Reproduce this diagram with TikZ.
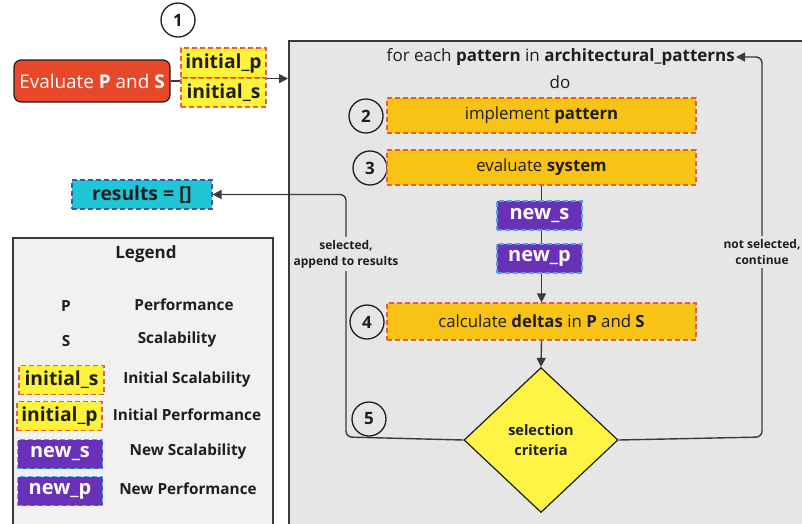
\documentclass[tikz,border=0pt]{standalone}
\usepackage{fontspec}
\setmainfont{Open Sans}
\usetikzlibrary{shapes.geometric,arrows.meta}
\definecolor{evred}{HTML}{E8482A}
\definecolor{linec}{HTML}{3A3A3A}
\definecolor{txt}{HTML}{1E1E1E}
\definecolor{loopgray}{HTML}{E6E6E6}
\definecolor{leggray}{HTML}{F1F1F1}
\definecolor{stepfill}{HTML}{F8C315}
\definecolor{inityel}{HTML}{FFF23A}
\definecolor{dashred}{HTML}{EE5A3C}
\definecolor{newpur}{HTML}{6931B8}
\definecolor{dashblue}{HTML}{4AA6EE}
\definecolor{rescyan}{HTML}{1FC7D6}
\definecolor{resblue}{HTML}{3D55B5}
\definecolor{diayel}{HTML}{FFF345}
\tikzset{
  arr/.style={draw=linec, line width=1.4pt, -{Triangle[length=9pt,width=9pt]}},
  conn/.style={draw=linec, line width=1.4pt},
  numc/.style={circle, draw=txt, line width=1.3pt, minimum size=34pt, inner sep=0pt, text=txt, font=\bfseries\fontsize{17}{20}\selectfont},
  stepbox/.style={draw=dashred, fill=stepfill, line width=1.2pt, dash pattern=on 5pt off 3pt, minimum width=309pt, minimum height=35pt, inner sep=0pt, text=txt, font=\fontsize{16.8}{20}\selectfont},
  initbox/.style={draw=dashred, fill=inityel, line width=1.2pt, dash pattern=on 5pt off 3pt, minimum width=85pt, minimum height=29pt, inner sep=0pt, text=txt, font=\bfseries\fontsize{19.3}{23}\selectfont},
  newbox/.style={draw=dashblue, fill=newpur, line width=1.2pt, dash pattern=on 5pt off 3pt, minimum width=85pt, minimum height=29pt, inner sep=0pt, text=white, font=\bfseries\fontsize{20}{24}\selectfont},
  lbl/.style={text=txt, font=\bfseries\fontsize{12}{16}\selectfont, align=center},
  legtxt/.style={text=txt, font=\bfseries\fontsize{15.3}{18}\selectfont},
}
\begin{document}
\begin{tikzpicture}[x=1pt,y=-1pt]
\useasboundingbox (0,0) rectangle (802,523);
\clip (0,0) rectangle (802,523);
\fill[white] (0,0) rectangle (802,523);

% big loop container
\node[draw=linec, line width=1.5pt, fill=loopgray, minimum width=540pt, minimum height=520pt, anchor=north west, inner sep=0pt] (loop) at (288,40) {};
% legend container
\node[draw=linec, line width=1.5pt, fill=leggray, minimum width=260pt, minimum height=320pt, anchor=north west, inner sep=0pt] (legend) at (12,237) {};

% step 1
\node[numc] (n1) at (178,20) {1};
\node[draw=txt, line width=1.2pt, fill=evred, rounded corners=7pt, minimum width=156pt, minimum height=42pt, inner sep=0pt, text=white, font=\fontsize{18.9}{22}\selectfont] (eval) at (92,81) {Evaluate \textbf{P} and \textbf{S}};
\node[initbox, minimum height=30pt] (ip) at (223.5,63) {initial\_p};
\node[initbox, minimum height=29pt] (is) at (223.5,92.5) {initial\_s};
\draw[conn] (eval.east) -- (eval.east -| ip.west);
\coordinate (ipout) at (ip.south east);
\draw[arr] (ipout) -- (ipout -| loop.west);

% loop header
\node[text=txt, font=\fontsize{17}{20}\selectfont, anchor=east, inner sep=1pt] (foreach) at (736,57) {for each \textbf{pattern} in \textbf{architectural\_patterns}};
\node[text=txt, font=\fontsize{17}{20}\selectfont] (do) at (560,82) {do};

% steps
\node[numc] (n2) at (366,116) {2};
\node[stepbox] (s2) at (541.5,115.5) {implement \textbf{pattern}};
\node[numc] (n3) at (370,168) {3};
\node[stepbox] (s3) at (541.5,167.5) {evaluate \textbf{system}};
\node[newbox] (ns) at (539.5,215.5) {new\_s};
\node[newbox] (np) at (539.5,258.5) {new\_p};
\node[numc] (n4) at (367,322) {4};
\node[stepbox, minimum height=37pt] (s4) at (541.5,321.5) {calculate \textbf{deltas} in \textbf{P} and \textbf{S}};
\node[diamond, draw=txt, line width=1.2pt, fill=diayel, minimum width=154pt, minimum height=145pt, inner sep=0pt, lbl, font=\bfseries\fontsize{14.5}{20}\selectfont] (dia) at (541,440) {selection\\criteria};
\node[numc] (n5) at (369,419) {5};

\draw[conn] (s3.south) -- (ns.north -| s3.south);
\draw[conn] (ns.south -| s3.south) -- (np.north -| s3.south);
\draw[arr] (np.south -| s3.south) -- (s4.north);
\draw[arr] (s4.south) -- (dia.north);

% results
\node[draw=resblue, fill=rescyan, line width=1.2pt, dash pattern=on 5pt off 3pt, minimum width=140pt, minimum height=29pt, inner sep=0pt, text=txt, font=\bfseries\fontsize{19.3}{22}\selectfont] (res) at (142,194.5) {results = []};

% loop-back connectors
\coordinate (lc) at (346,437);
\coordinate (rc) at (762,437);
\draw[arr, rounded corners=6pt] (dia.west) -- (lc) -- (lc |- res.east) -- (res.east);
\draw[arr, rounded corners=6pt] (dia.east) -- (rc) -- (rc |- foreach.east) -- (foreach.east);
\node[lbl, fill=loopgray, inner sep=3pt] (sel) at (346,254) {selected,\\append to results};
\node[lbl, fill=loopgray, inner sep=3pt] (nsel) at (762,252) {not selected,\\continue};

% legend
\node[text=txt, font=\bfseries\fontsize{17}{20}\selectfont] (legt) at (146,254) {Legend};
\node[legtxt] (lp) at (66,306) {P};
\node[legtxt] (lpt) at (184,305) {Performance};
\node[legtxt] (ls) at (66,341) {S};
\node[legtxt] (lst) at (177,340) {Scalability};
\node[initbox] (lis) at (61.5,380) {initial\_s};
\node[legtxt] (list) at (187,380) {Initial Scalability};
\node[initbox] (lip) at (59.5,416) {initial\_p};
\node[legtxt] (lipt) at (187,415) {Initial Performance};
\node[newbox] (lns) at (60,454) {new\_s};
\node[legtxt] (lnst) at (188,452) {New Scalability};
\node[newbox] (lnp) at (60,491) {new\_p};
\node[legtxt] (lnpt) at (188,489) {New Performance};
\end{tikzpicture}
\end{document}
